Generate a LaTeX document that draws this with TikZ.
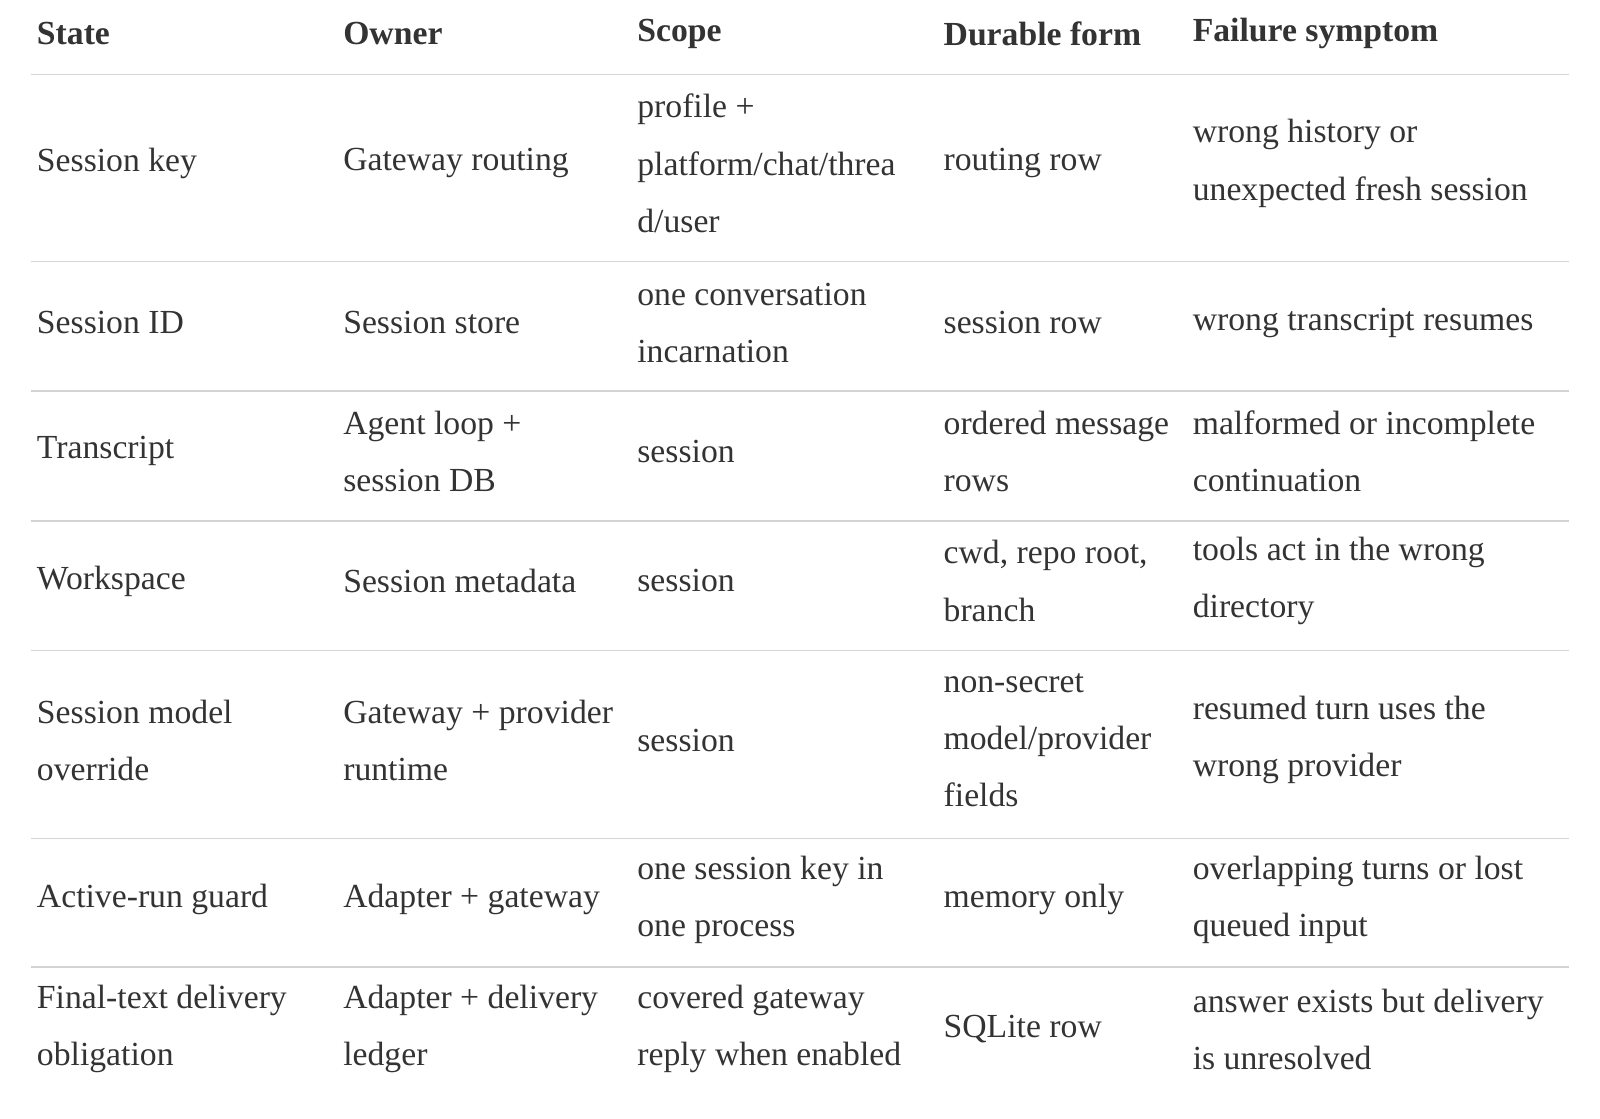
\documentclass[tikz,border=0pt]{standalone}
\usepackage{fontspec}
\setmainfont{Liberation Serif}
\definecolor{ink}{HTML}{333333}
\definecolor{rulegray}{HTML}{D4D4D4}
\begin{document}
\begin{tikzpicture}[x=1pt,y=-1pt,
		cell/.style={anchor=west, inner sep=0pt, align=left, text=ink,
			font=\fontsize{33}{56}\selectfont},
		head/.style={cell, font=\fontsize{33}{56}\selectfont\bfseries},
		rule/.style={draw=rulegray, line width=1.5pt},
	]
		\useasboundingbox (0,0) rectangle (1567,1095);
		% header
		\node (h1) [head] at (36,33) {State};
		\node (h2) [head] at (336,33) {Owner};
		\node (h3) [head] at (624,33) {Scope};
		\node (h4) [head] at (924,33) {Durable form};
		\node (h5) [head] at (1168,33) {Failure symptom};
		% rules
		\foreach \y in {73,256,383,510,637,821,947}
			\draw[rule] (30,\y) -- (1537,\y);
		% row 1
		\node (a1) [cell] at (36,160) {Session key};
		\node (a2) [cell] at (336,160) {Gateway routing};
		\node (a3) [cell] at (624,160) {profile +\\platform/chat/threa\\d/user};
		\node (a4) [cell] at (924,160) {routing row};
		\node (a5) [cell] at (1168,160) {wrong history or\\unexpected fresh session};
		% row 2
		\node (b1) [cell] at (36,316) {Session ID};
		\node (b2) [cell] at (336,316) {Session store};
		\node (b3) [cell] at (624,316) {one conversation\\incarnation};
		\node (b4) [cell] at (924,316) {session row};
		\node (b5) [cell] at (1168,316) {wrong transcript resumes};
		% row 3
		\node (c1) [cell] at (36,442) {Transcript};
		\node (c2) [cell] at (336,442) {Agent loop +\\session DB};
		\node (c3) [cell] at (624,442) {session};
		\node (c4) [cell] at (924,442) {ordered message\\rows};
		\node (c5) [cell] at (1168,442) {malformed or incomplete\\continuation};
		% row 4
		\node (d1) [cell] at (36,569) {Workspace};
		\node (d2) [cell] at (336,569) {Session metadata};
		\node (d3) [cell] at (624,569) {session};
		\node (d4) [cell] at (924,569) {cwd, repo root,\\branch};
		\node (d5) [cell] at (1168,569) {tools act in the wrong\\directory};
		% row 5
		\node (e1) [cell] at (36,725) {Session model\\override};
		\node (e2) [cell] at (336,725) {Gateway + provider\\runtime};
		\node (e3) [cell] at (624,725) {session};
		\node (e4) [cell] at (924,725) {non-secret\\model/provider\\fields};
		\node (e5) [cell] at (1168,725) {resumed turn uses the\\wrong provider};
		% row 6
		\node (f1) [cell] at (36,881) {Active-run guard};
		\node (f2) [cell] at (336,881) {Adapter + gateway};
		\node (f3) [cell] at (624,881) {one session key in\\one process};
		\node (f4) [cell] at (924,881) {memory only};
		\node (f5) [cell] at (1168,881) {overlapping turns or lost\\queued input};
		% row 7
		\node (g1) [cell] at (36,1008) {Final-text delivery\\obligation};
		\node (g2) [cell] at (336,1008) {Adapter + delivery\\ledger};
		\node (g3) [cell] at (624,1008) {covered gateway\\reply when enabled};
		\node (g4) [cell] at (924,1008) {SQLite row};
		\node (g5) [cell] at (1168,1008) {answer exists but delivery\\is unresolved};
	\end{tikzpicture}
\end{document}
